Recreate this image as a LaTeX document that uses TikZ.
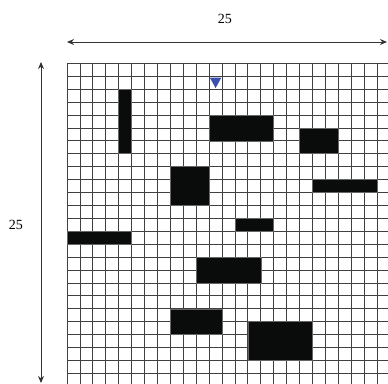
\documentclass[tikz,border=0pt]{standalone}
\usepackage{fontspec}
\setmainfont{Liberation Serif}
\usetikzlibrary{arrows.meta}
\definecolor{marker}{RGB}{60,80,175}
\definecolor{blockc}{RGB}{10,12,12}
\tikzset{
  gridline/.style={draw=black!75, line width=0.8pt},
  block/.style={fill=blockc, draw=black!60, line width=0.5pt},
  dimarrow/.style={draw=black!80, line width=1pt, {Stealth[length=7pt,width=6pt]}-{Stealth[length=7pt,width=6pt]}},
  dimlabel/.style={font=\fontsize{14}{16}\selectfont, inner sep=0pt}
}
\begin{document}
\begin{tikzpicture}[x=1pt,y=-1pt]
\useasboundingbox (0,0) rectangle (388,383);
\clip (0,0) rectangle (388,383);
% dimension arrows
\coordinate (hL) at (67,42);
\coordinate (hR) at (387,42);
\coordinate (vT) at (41,62);
\coordinate (vB) at (41,383);
\draw[dimarrow] (hL) -- (hR);
\draw[dimarrow] (vT) -- (vB);
\node[dimlabel] (topnum) at (224.8,18.5) {25};
\node[dimlabel] (leftnum) at (15.8,224.5) {25};
% grid
\begin{scope}[shift={(67,63.3)}, x=12.92pt, y=-12.92pt]
  \foreach \i in {0,...,25} {
    \draw[gridline] (\i,0) -- (\i,25);
    \draw[gridline] (0,\i) -- (25,\i);
  }
  \foreach \a/\b/\c/\d in {4/2/5/7, 11/4/16/6, 18/5/21/7, 8/8/11/11, 19/9/24/10,
                           13/12/16/13, 0/13/5/14, 10/15/15/17, 8/19/12/21, 14/20/19/23}
    \path[block] (\a,\b) rectangle (\c,\d);
  \path[fill=marker] (11.05,1.1) -- (11.95,1.1) -- (11.5,1.92) -- cycle;
\end{scope}
\end{tikzpicture}
\end{document}
